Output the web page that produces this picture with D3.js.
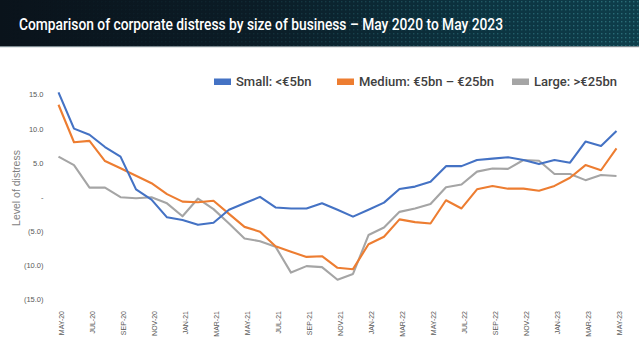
<!DOCTYPE html>
<html>
<head>
<meta charset="utf-8">
<script src="https://cdn.jsdelivr.net/npm/d3@7"></script>
<style>
  html, body { margin: 0; padding: 0; background: #ffffff; }
  svg { display: block; }
</style>
</head>
<body>
<div id="chart"></div>
<script>
const titleText = "Comparison of corporate distress by size of business \u2013 May 2020 to May 2023";
const yAxisTitle = "Level of distress";

const months = ["MAY-20","JUN-20","JUL-20","AUG-20","SEP-20","OCT-20","NOV-20","DEC-20",
  "JAN-21","FEB-21","MAR-21","APR-21","MAY-21","JUN-21","JUL-21","AUG-21","SEP-21","OCT-21","NOV-21","DEC-21",
  "JAN-22","FEB-22","MAR-22","APR-22","MAY-22","JUN-22","JUL-22","AUG-22","SEP-22","OCT-22","NOV-22","DEC-22",
  "JAN-23","FEB-23","MAR-23","APR-23","MAY-23"];

const seriesNames = ["Small: <\u20ac5bn", "Medium: \u20ac5bn \u2013 \u20ac25bn", "Large: >\u20ac25bn"];
const seriesColors = ["#4472C4", "#ED7D31", "#A5A5A5"];

const small = [15.3, 10.0, 9.1, 7.3, 5.9, 1.1, -0.4, -3.0, -3.4, -4.1, -3.8, -1.9, -0.95, 0.0, -1.55, -1.7, -1.7, -0.95, -1.9, -2.9,
  -1.9, -0.85, 1.15, 1.5, 2.2, 4.5, 4.5, 5.4, 5.6, 5.8, 5.4, 4.8, 5.4, 5.0, 8.1, 7.45, 9.65];
const medium = [13.5, 8.0, 8.2, 5.25, 4.2, 3.1, 2.0, 0.4, -0.7, -0.8, -0.57, -2.5, -4.4, -5.1, -7.25, -8.05, -8.8, -8.7, -10.4, -10.6,
  -6.95, -5.85, -3.3, -3.7, -3.9, -0.5, -1.7, 1.1, 1.6, 1.2, 1.2, 0.9, 1.6, 2.8, 4.65, 3.9, 7.1];
const large = [5.9, 4.65, 1.35, 1.35, -0.05, -0.2, -0.05, -0.95, -2.85, -0.25, -1.8, -3.9, -6.1, -6.5, -7.3, -11.1, -10.15, -10.3, -12.15, -11.3,
  -5.6, -4.5, -2.2, -1.7, -1.05, 1.4, 1.8, 3.7, 4.15, 4.1, 5.4, 5.3, 3.35, 3.35, 2.45, 3.2, 3.05];

const yTicks = [15, 10, 5, 0, -5, -10, -15];

const W = 639, H = 359;
const svg = d3.select("#chart").append("svg").attr("width", W).attr("height", H);

// Banner
const defs = svg.append("defs");
const grad = defs.append("linearGradient").attr("id", "bannerGrad").attr("x1", "0").attr("x2", "1").attr("y1", "0").attr("y2", "0");
grad.append("stop").attr("offset", "0%").attr("stop-color", "#0a131b");
grad.append("stop").attr("offset", "40%").attr("stop-color", "#0b1c26");
grad.append("stop").attr("offset", "75%").attr("stop-color", "#0c3340");
grad.append("stop").attr("offset", "100%").attr("stop-color", "#0e3e4b");
const pat = defs.append("pattern").attr("id", "dots").attr("width", 4).attr("height", 4).attr("patternUnits", "userSpaceOnUse");
pat.append("rect").attr("x", 1).attr("y", 1).attr("width", 1.4).attr("height", 1.4).attr("fill", "#3f8f98");
const fade = defs.append("linearGradient").attr("id", "fadeGrad").attr("x1", "0").attr("x2", "1").attr("y1", "0").attr("y2", "0");
fade.append("stop").attr("offset", "0%").attr("stop-color", "#fff").attr("stop-opacity", 0);
fade.append("stop").attr("offset", "35%").attr("stop-color", "#fff").attr("stop-opacity", 0.1);
fade.append("stop").attr("offset", "100%").attr("stop-color", "#fff").attr("stop-opacity", 0.6);
const mask = defs.append("mask").attr("id", "fadeMask");
mask.append("rect").attr("x", 0).attr("y", 0).attr("width", W).attr("height", 47).attr("fill", "url(#fadeGrad)");

svg.append("rect").attr("x", 0).attr("y", 0).attr("width", W).attr("height", 47).attr("fill", "url(#bannerGrad)");
svg.append("rect").attr("x", 0).attr("y", 0).attr("width", W).attr("height", 47).attr("fill", "url(#dots)").attr("mask", "url(#fadeMask)");
svg.append("rect").attr("x", 0).attr("y", 46).attr("width", W).attr("height", 1.2).attr("fill", "#7d8a90");

svg.append("text")
  .attr("x", 19).attr("y", 30)
  .attr("fill", "#ffffff")
  .attr("font-family", "Roboto, 'DejaVu Sans', sans-serif")
  .attr("font-size", 17)
  .attr("font-weight", 500)
  .attr("textLength", 484)
  .attr("lengthAdjust", "spacingAndGlyphs")
  .text(titleText);

// Scales
const x = d3.scalePoint().domain(months).range([58.5, 616.5]);
const y = d3.scaleLinear().domain([-15, 15]).range([299.2, 94.5]);

// Y axis labels
const fmt = v => v === 0 ? "-" : (v < 0 ? "(" + d3.format(".1f")(-v) + ")" : d3.format(".1f")(v));
const yAxis = d3.axisLeft(y).tickValues(yTicks).tickFormat(fmt).tickSize(0).tickPadding(0);
const yg = svg.append("g").attr("transform", "translate(43.5,0)").call(yAxis);
yg.select(".domain").remove();
yg.selectAll("text")
  .attr("fill", "#595959")
  .attr("font-family", "'Liberation Sans Narrow', 'Liberation Sans', Arial, sans-serif")
  .attr("font-size", 7.5);

// X axis labels
const xAxis = d3.axisBottom(x).tickValues(months.filter((m, i) => i % 2 === 0)).tickSize(0).tickPadding(0);
const xg = svg.append("g").attr("transform", "translate(0,311)").call(xAxis);
xg.select(".domain").remove();
xg.selectAll("text")
  .attr("fill", "#595959")
  .attr("font-family", "'Liberation Sans Narrow', 'Liberation Sans', Arial, sans-serif")
  .attr("font-size", 7)
  .attr("text-anchor", "end")
  .attr("transform", "translate(2.5,0) rotate(-90)")
  .attr("x", 0).attr("y", 0).attr("dy", "0.35em");

// Y axis title
svg.append("text")
  .attr("transform", "translate(20,188) rotate(-90)")
  .attr("text-anchor", "middle")
  .attr("fill", "#7f7f7f")
  .attr("font-family", "'Liberation Sans', Arial, sans-serif")
  .attr("font-size", 10.5)
  .text(yAxisTitle);

// Lines
const allSeries = [small, medium, large];
const line = d3.line().x((d, i) => x(months[i])).y(d => y(d));
// draw order: large, medium, small (small on top)
[2, 1, 0].forEach(k => {
  svg.append("path")
    .datum(allSeries[k])
    .attr("fill", "none")
    .attr("stroke", seriesColors[k])
    .attr("stroke-width", 2.1)
    .attr("stroke-linejoin", "round")
    .attr("d", line);
});

// Legend
const legendX = [214, 337, 512];
const lg = svg.append("g");
seriesNames.forEach((name, k) => {
  lg.append("rect").attr("x", legendX[k]).attr("y", 78.5).attr("width", 17).attr("height", 6.5).attr("fill", seriesColors[k]);
  lg.append("text")
    .attr("x", legendX[k] + 22).attr("y", 86)
    .attr("fill", "#404040")
    .attr("font-family", "Roboto, 'Open Sans', sans-serif")
    .attr("font-size", 13)
    .attr("font-weight", 500)
    .text(name);
});
</script>
</body>
</html>
